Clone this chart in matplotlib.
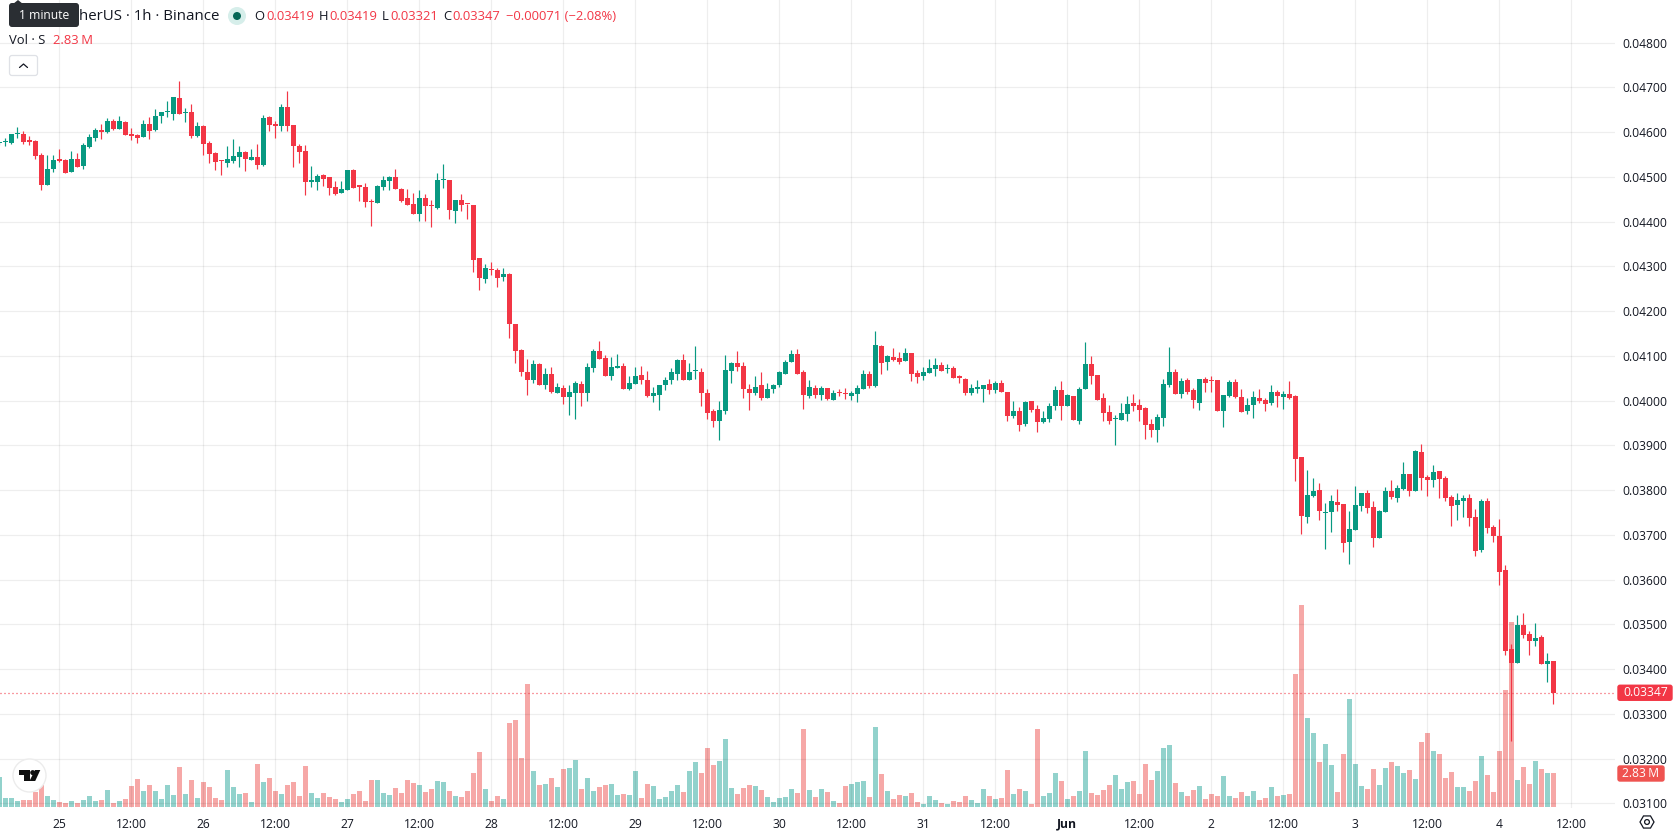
import numpy as np
import pandas as pd
import matplotlib
matplotlib.use("Agg")
import matplotlib.pyplot as plt
from matplotlib.patches import FancyBboxPatch, Circle, Polygon, RegularPolygon

plt.rcParams['font.family'] = ['Open Sans', 'DejaVu Sans']

# Hourly candles, price in units of 0.00001. Hour 0 is 25 May 00:00
opens = [
    4575,4577,4576,4595,4596,4580,4580,4548,4482,4518,
    4537,4538,4511,4540,4524,4567,4587,4605,4600,4625,
    4607,4623,4596,4594,4589,4618,4605,4636,4644,4641,
    4676,4642,4645,4591,4614,4576,4553,4536,4531,4536,
    4544,4556,4538,4544,4527,4634,4618,4614,4656,4616,
    4569,4558,4489,4489,4504,4500,4478,4464,4471,4515,
    4479,4478,4445,4442,4478,4491,4500,4474,4452,4440,
    4418,4452,4436,4431,4493,4494,4423,4449,4440,4438,
    4318,4271,4295,4293,4277,4284,4172,4114,4065,4047,
    4081,4036,4060,4018,4029,4009,4016,4038,4016,4072,
    4110,4096,4056,4072,4078,4027,4038,4058,4047,4011,
    4013,4034,4045,4060,4090,4047,4066,4065,4018,3976,
    3955,3976,4067,4085,4078,4027,4016,4034,4005,4025,
    4034,4060,4087,4105,4063,4011,4029,4013,4029,4002,
    4017,4015,4011,4015,4026,4060,4033,4123,4087,4098,
    4096,4089,4107,4062,4055,4062,4071,4080,4070,4073,
    4052,4049,4017,4027,4026,4038,4024,4040,4020,3966,
    3977,3948,3999,3982,3953,3959,3988,4024,3988,4011,
    3955,4026,4082,4058,4006,3975,3958,3957,3971,3995,
    3991,3984,3948,3935,3962,4035,4064,4015,4047,4024,
    3995,4049,4045,4047,3977,4011,4042,4007,3976,3990,
    4005,4001,3994,4019,4007,4014,4010,3873,3739,3786,
    3800,3749,3750,3773,3768,3683,3710,3764,3793,3762,
    3692,3750,3797,3782,3802,3835,3797,3885,3829,3822,
    3842,3826,3784,3766,3775,3782,3739,3665,3775,3717,
    3697,3621,3444,3413,3498,3478,3462,3471,3411,3419,
]
highs = [
    4579,4586,4597,4611,4602,4591,4582,4553,4549,4549,
    4562,4539,4558,4553,4575,4597,4609,4618,4632,4629,
    4636,4624,4609,4596,4627,4634,4652,4645,4670,4679,
    4714,4654,4663,4623,4616,4580,4556,4538,4569,4585,
    4569,4558,4562,4574,4638,4636,4625,4663,4692,4616,
    4574,4571,4524,4507,4507,4500,4491,4491,4515,4518,
    4480,4486,4451,4482,4502,4502,4518,4476,4474,4463,
    4470,4461,4449,4508,4528,4494,4449,4461,4440,4438,
    4318,4306,4309,4297,4297,4286,4172,4116,4094,4090,
    4083,4072,4076,4040,4036,4034,4043,4043,4085,4116,
    4134,4103,4098,4105,4083,4056,4076,4078,4067,4031,
    4036,4052,4074,4092,4105,4085,4121,4072,4025,3982,
    4000,4103,4087,4110,4087,4038,4054,4063,4040,4038,
    4067,4090,4114,4116,4069,4047,4034,4033,4029,4024,
    4026,4029,4022,4035,4069,4067,4156,4125,4102,4118,
    4109,4118,4107,4069,4076,4093,4096,4087,4082,4078,
    4058,4051,4038,4047,4035,4049,4044,4047,4020,3999,
    3986,3999,3999,3991,3977,3995,4033,4044,4015,4011,
    4031,4131,4100,4058,4017,3991,3968,3995,4011,4015,
    4004,3986,3959,3971,4049,4120,4071,4051,4051,4029,
    4049,4053,4055,4047,4013,4047,4049,4025,4005,4021,
    4025,4005,4034,4023,4021,4043,4012,3873,3844,3826,
    3815,3771,3788,3802,3768,3753,3809,3793,3800,3775,
    3755,3806,3822,3811,3862,3835,3889,3902,3833,3855,
    3842,3831,3788,3793,3788,3791,3757,3779,3782,3721,
    3735,3632,3455,3520,3525,3484,3502,3476,3435,3419,
]
lows = [
    4571,4568,4574,4587,4574,4571,4541,4471,4482,4512,
    4534,4509,4511,4522,4518,4565,4581,4585,4599,4605,
    4607,4594,4583,4576,4589,4585,4603,4620,4634,4627,
    4641,4623,4587,4589,4549,4531,4515,4504,4522,4531,
    4522,4513,4538,4518,4524,4603,4587,4603,4603,4522,
    4531,4460,4478,4471,4480,4460,4460,4464,4471,4475,
    4446,4433,4390,4442,4471,4471,4473,4445,4438,4418,
    4402,4402,4389,4429,4476,4407,4398,4423,4405,4288,
    4248,4264,4280,4255,4268,4139,4083,4056,4013,4040,
    4036,4027,4018,4018,3993,3967,3960,3989,4000,4065,
    4094,4054,4045,4072,4025,4023,4038,4038,4007,3996,
    3980,4023,4038,4047,4047,4047,4049,3987,3958,3942,
    3913,3971,4040,4067,4005,3978,4013,4002,4005,4016,
    4031,4060,4087,4060,3982,4005,4005,4002,4002,4002,
    4011,4004,4002,3997,4026,4029,4031,4060,4069,4089,
    4082,4089,4044,4040,4047,4062,4055,4067,4062,4051,
    4040,4013,4013,4017,3997,4015,4017,4020,3955,3962,
    3933,3944,3975,3930,3950,3953,3980,3957,3988,3957,
    3948,4026,4038,4002,3955,3948,3901,3957,3955,3977,
    3955,3915,3919,3908,3944,4031,4015,4006,4015,3984,
    3980,4020,4020,3977,3941,4009,4006,3974,3969,3961,
    3994,3976,3990,3985,3981,4003,3820,3701,3726,3784,
    3733,3668,3706,3753,3661,3634,3710,3753,3748,3672,
    3692,3750,3779,3773,3800,3786,3797,3800,3786,3806,
    3782,3775,3719,3733,3739,3719,3652,3661,3703,3683,
    3589,3431,3239,3413,3469,3431,3451,3411,3370,3321,
]
closes = [
    4576,4578,4596,4596,4578,4579,4547,4482,4518,4538,
    4536,4509,4540,4522,4571,4589,4605,4600,4625,4607,
    4625,4594,4591,4587,4618,4603,4636,4645,4645,4679,
    4641,4643,4591,4614,4574,4551,4533,4535,4540,4547,
    4556,4540,4544,4527,4632,4616,4614,4656,4614,4569,
    4556,4489,4491,4502,4495,4475,4462,4473,4515,4475,
    4478,4444,4444,4480,4493,4500,4473,4447,4438,4418,
    4452,4434,4435,4494,4494,4425,4449,4438,4439,4315,
    4275,4297,4291,4275,4284,4172,4112,4065,4047,4081,
    4036,4060,4020,4031,4009,4020,4040,4016,4076,4110,
    4094,4054,4076,4078,4027,4040,4056,4045,4011,4018,
    4034,4047,4063,4090,4047,4065,4067,4018,3973,3955,
    3978,4069,4085,4076,4025,4016,4031,4005,4027,4036,
    4063,4087,4105,4060,4013,4031,4013,4029,4004,4017,
    4016,4014,4017,4029,4060,4033,4125,4085,4100,4091,
    4087,4107,4060,4053,4064,4073,4080,4067,4071,4051,
    4051,4017,4029,4028,4035,4024,4040,4020,3966,3977,
    3946,3997,3980,3953,3962,3988,4024,3988,4013,3957,
    4026,4082,4055,4002,3973,3955,3959,3973,3993,3988,
    3980,3946,3935,3964,4038,4064,4015,4044,4020,4002,
    4049,4040,4044,3977,4013,4042,4009,3974,3990,4007,
    3999,3992,4019,4010,4014,4005,3869,3742,3788,3797,
    3753,3750,3775,3766,3681,3712,3766,3793,3759,3692,
    3753,3797,3784,3804,3835,3797,3887,3826,3822,3840,
    3824,3782,3764,3777,3782,3737,3663,3775,3715,3697,
    3618,3440,3413,3498,3476,3462,3469,3411,3417,3347,
]
# Volume in millions
volumes = [
    2.52,.76,.76,.50,.59,.59,1.30,1.85,.92,.59,
    .42,.34,.50,.34,.59,.92,.50,.59,1.43,.34,
    .50,.67,1.76,2.35,1.34,1.85,1.34,.67,1.85,1.01,
    3.36,1.09,2.27,.76,2.10,1.68,.76,.59,3.11,1.68,
    1.09,1.18,.42,3.61,2.10,2.44,1.34,1.09,1.85,2.10,
    .92,3.44,1.18,.76,1.18,.84,.67,.42,.67,1.09,
    1.34,.50,2.27,2.27,1.18,1.01,1.60,1.18,2.27,2.02,
    1.85,1.26,1.51,2.18,2.10,1.34,.92,.84,1.34,2.86,
    4.62,1.51,.50,.92,.67,7.06,7.31,4.12,10.33,3.02,
    1.85,1.93,2.44,1.68,3.19,3.28,3.95,1.51,2.44,1.34,
    1.68,1.85,1.93,1.01,1.09,1.01,3.02,.76,1.93,1.76,
    .67,.84,1.34,1.85,1.26,3.02,3.78,2.86,4.96,3.53,
    3.86,5.71,1.60,1.09,1.60,1.85,1.76,1.43,.84,.42,
    .76,.84,1.51,1.18,6.55,1.43,.84,1.51,1.26,.50,
    .34,1.76,1.93,2.10,2.18,.84,6.72,2.77,1.34,.67,
    1.01,.92,1.18,.42,.25,.92,.59,.34,.25,.50,
    .42,.92,.59,.34,1.51,.92,.67,.76,3.11,1.09,
    1.51,1.34,.25,6.55,.92,1.18,2.86,2.18,.67,.92,
    1.34,4.70,1.18,1.01,1.43,1.85,2.69,1.51,2.10,2.18,
    1.09,3.61,2.27,3.02,4.96,5.21,2.02,1.26,.92,1.43,
    1.76,.67,1.09,.92,2.60,.92,.76,1.26,.92,1.32,
    .56,.73,1.65,.90,.98,1.06,11.14,16.94,7.45,6.19,
    3.75,5.26,3.50,1.23,4.42,9.04,3.58,1.74,1.48,3.16,
    1.82,3.25,3.75,3.42,2.83,3.08,2.32,5.43,6.19,4.68,
    4.42,2.41,2.91,1.65,1.65,1.32,2.16,4.26,2.66,1.23,
    4.68,9.80,15.51,2.24,3.33,1.90,3.84,3.16,2.83,2.83,
]
first_hour = -10

x_ticks = [0, 12, 24, 36, 48, 60, 72, 84, 96, 108, 120, 132, 144, 156, 168, 180, 192, 204, 216, 228, 240, 252]
x_labels = ["25", "12:00", "26", "12:00", "27", "12:00", "28", "12:00", "29", "12:00", "30", "12:00",
            "31", "12:00", "Jun", "12:00", "2", "12:00", "3", "12:00", "4", "12:00"]
price_ticks = [0.031, 0.032, 0.033, 0.034, 0.035, 0.036, 0.037, 0.038, 0.039, 0.040,
               0.041, 0.042, 0.043, 0.044, 0.045, 0.046, 0.047, 0.048]
last_volume_label = "2.83\u202fM"

df = pd.DataFrame({"open": opens, "high": highs, "low": lows, "close": closes, "volume": volumes})
df[["open", "high", "low", "close"]] = df[["open", "high", "low", "close"]] * 1e-5
df["hour"] = np.arange(first_hour, first_hour + len(df))
df["up"] = df["close"] >= df["open"]

UP = "#089981"
DOWN = "#F23645"
VOL_UP = "#26a69a"
VOL_DOWN = "#ef5350"
TEXT = "#131722"
W, H = 1678, 835

fig = plt.figure(figsize=(W / 100, H / 100), dpi=100, facecolor="white")
rect = [0, 1 - 808 / H, 1615 / W, 808 / H]

# Volume pane sits behind the candles and shares the x range
ax_vol = fig.add_axes(rect)
ax = fig.add_axes(rect, sharex=ax_vol)
ax.patch.set_visible(False)

ax_vol.bar(df["hour"], df["volume"], width=0.83, linewidth=0, alpha=0.5,
           color=np.where(df["up"], VOL_UP, VOL_DOWN))
ax_vol.set_ylim(-0.084, 807 * 0.084)
ax_vol.set_yticks([])
ax_vol.tick_params(length=0, labelbottom=False)

# Candles
colors = np.where(df["up"], UP, DOWN)
ax.vlines(df["hour"], df["low"], df["high"], colors=colors, linewidth=0.85, zorder=3)
body_low = df[["open", "close"]].min(axis=1)
body_height = np.maximum((df["close"] - df["open"]).abs(), 3e-5)
ax.bar(df["hour"], body_height, bottom=body_low, width=0.83, color=colors, linewidth=0, zorder=4)

# Dotted line at the last close
ax.axhline(closes[-1] * 1e-5, color=DOWN, linewidth=0.9, linestyle=(0, (0.8, 2.4)), zorder=2)

ax.set_xlim(-59.3 / 6, (1615 - 59.3) / 6)
ax.set_ylim(0.048 - (808 - 42.7) / 44740, 0.048 + 42.7 / 44740)

ax.set_xticks(x_ticks)
ax.set_xticklabels(x_labels, fontsize=8.7, color=TEXT)
for label in ax.get_xticklabels():
    if label.get_text() == "Jun":
        label.set_fontweight("bold")
ax.yaxis.tick_right()
ax.set_yticks(price_ticks)
ax.set_yticklabels([f"{p:.5f}" for p in price_ticks], fontsize=8.7, color=TEXT)
ax.tick_params(axis="both", length=0)
ax.tick_params(axis="x", pad=7)
ax.tick_params(axis="y", pad=5.5)
ax.grid(True, color="black", alpha=0.065, linewidth=0.9)
ax.set_axisbelow(True)
for a in (ax, ax_vol):
    for s in a.spines.values():
        s.set_visible(False)

# Overlay in figure pixels for the legend, tags and logo
ov = fig.add_axes([0, 0, 1, 1], zorder=10)
ov.set_xlim(0, W)
ov.set_ylim(H, 0)
ov.axis("off")

def ypix(price):
    return H - ax.transData.transform((0, price))[1]

fig.canvas.draw()
close_y = ypix(closes[-1] * 1e-5)

# Price tag for the last close
ov.add_patch(FancyBboxPatch((1618, close_y - 7.5), 54, 15, boxstyle="round,pad=0,rounding_size=2",
                            facecolor=DOWN, edgecolor=DOWN, linewidth=1))
ov.text(1645.5, close_y, f"{closes[-1] * 1e-5:.5f}", color="white", fontsize=8.7, ha="center", va="center")

# Volume tag
vol_y = 773.5
ov.add_patch(FancyBboxPatch((1618, vol_y - 7.5), 46, 15, boxstyle="round,pad=0,rounding_size=2",
                            facecolor=VOL_DOWN, edgecolor=VOL_DOWN, linewidth=1))
ov.text(1641, vol_y, last_volume_label, color="white", fontsize=8.7, ha="center", va="center")

# Legend rows
ov.text(219, 16, "herUS · 1h · Binance", color=TEXT, fontsize=10.8, ha="right", va="center")
ov.add_patch(Circle((237, 16), 9, facecolor="#d6eeea", edgecolor="none"))
ov.add_patch(Circle((237, 16), 4, facecolor="#056656", edgecolor="none"))

ohlc = [("O", 254, "0.03419", 266), ("H", 318.5, "0.03419", 329), ("L", 382, "0.03321", 390), ("C", 443, "0.03347", 452)]
for letter, lx, value, vx in ohlc:
    ov.text(lx, 16, letter, color=TEXT, fontsize=9.4, va="center")
    ov.text(vx, 16, value, color=DOWN, fontsize=9.4, va="center")
ov.text(506, 16, "\u22120.00071 (\u22122.08%)", color=DOWN, fontsize=9.4, va="center")

ov.text(9, 40.5, "Vol · S", color=TEXT, fontsize=9.4, va="center")
ov.text(53, 40.5, last_volume_label, color=DOWN, fontsize=9.4, va="center")

# Collapse button
ov.add_patch(FancyBboxPatch((9.5, 55.5), 28, 20, boxstyle="round,pad=0,rounding_size=2.5",
                            facecolor="white", edgecolor="#dfe1e6", linewidth=0.9))
ov.plot([19.5, 23.5, 27.5], [67.5, 64, 67.5], color=TEXT, linewidth=0.9, solid_capstyle="round")

# Tooltip over the symbol name
ov.add_patch(Polygon([(13, 4), (18, 0), (23, 4)], closed=True, facecolor="#2a2e33", edgecolor="none"))
ov.add_patch(FancyBboxPatch((9, 3), 70, 24, boxstyle="round,pad=0,rounding_size=3",
                            facecolor="#2a2e33", edgecolor="none"))
ov.text(44, 15.5, "1 minute", color="white", fontsize=8.7, ha="center", va="center")

# Logo badge
ov.add_patch(Circle((29.5, 775.5), 16.5, facecolor="white", edgecolor="#ececec", linewidth=1))
ov.add_patch(Polygon([(19, 770), (30, 770), (30, 781), (24, 781), (24, 775), (19, 775)], closed=True,
                     facecolor="#0f0f0f", edgecolor="none"))
ov.add_patch(Circle((32.7, 772.6), 2.5, facecolor="#0f0f0f", edgecolor="none"))
ov.add_patch(Polygon([(35, 770), (40.3, 770), (35.2, 781), (29.5, 781)], closed=True,
                     facecolor="#0f0f0f", edgecolor="none"))

# Settings icon on the time axis
ov.add_patch(RegularPolygon((1647, 822), 6, radius=7, orientation=np.pi / 6, facecolor="none",
                            edgecolor=TEXT, linewidth=0.9))
ov.add_patch(Circle((1647, 822), 2.4, facecolor="none", edgecolor=TEXT, linewidth=0.9))

fig.savefig("out.png", dpi=100)
